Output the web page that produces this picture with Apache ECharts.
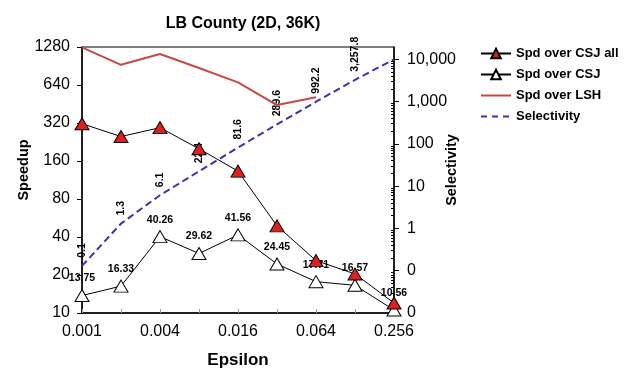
<!doctype html>
<html>
<head>
<meta charset="UTF-8">
<title>LB County</title>
<style>
  body { margin: 0; padding: 0; background: #fff; }
  #main { width: 644px; height: 373px; }
</style>
</head>
<body>
<div id="main"></div>
<script src="https://cdn.jsdelivr.net/npm/echarts@6/dist/echarts.min.js"></script>
<script>
// epsilon values (x), each step doubles
var epsilons = ['0.001', '0.002', '0.004', '0.008', '0.016', '0.032', '0.064', '0.128', '0.256'];

// speedup series (left axis, log2)
var spdCsjAll = [316, 250, 294, 200, 133, 49, 26, 20.4, 12.0];
var spdCsj = [13.75, 16.33, 40.26, 29.62, 41.56, 24.45, 17.71, 16.57, 10.56];
var spdLsh = [1270, 925, 1127, 873, 672, 444, 511, null, null];

// selectivity (right axis, log10)
var selectivity = [0.13, 1.3, 6.1, 22.4, 81.6, 289.6, 992.2, 3257.8, 10000];

// tick values
var speedupTicks = [10, 20, 40, 80, 160, 320, 640, 1280];
var selTicks = [0.01, 0.1, 1, 10, 100, 1000, 10000];
var selMinorTicks = [];
for (var d = -2; d <= 3; d++) {
    for (var k = 2; k <= 9; k++) {
        selMinorTicks.push(k * Math.pow(10, d));
    }
}

var font = 'Liberation Sans, Arial, Helvetica, sans-serif';
var oneDec = new Intl.NumberFormat('en-US', { minimumFractionDigits: 1, maximumFractionDigits: 1 });

// legend icons drawn in a 30x12 box (tiny corner specks keep the box size)
var specks = 'M0,0L0.01,0L0,0.01Z M30,12L29.99,12L30,11.99Z ';
var solidIcon = 'path://' + specks + 'M0,5L30,5L30,7L0,7Z';
var dashIcon = 'path://' + specks + 'M0,5L6,5L6,7L0,7Z M11,5L17,5L17,7L11,7Z M22,5L28,5L28,7L22,7Z';

var chart = echarts.init(document.getElementById('main'));

chart.setOption({
    animation: false,
    textStyle: { fontFamily: font },
    title: {
        text: 'LB County (2D, 36K)',
        left: 238,
        textAlign: 'center',
        top: 11,
        textStyle: { fontSize: 16, fontWeight: 'bold', color: '#000', fontFamily: font }
    },
    grid: {
        left: 82, right: 250, top: 47, bottom: 60,
        outerBoundsMode: 'none',
        show: true, borderColor: '#000', borderWidth: 1
    },
    legend: {
        orient: 'vertical',
        left: 480,
        top: 47,
        padding: 0,
        itemWidth: 30,
        itemHeight: 12,
        itemGap: 8,
        data: [
            { name: 'Spd over CSJ all' },
            { name: 'Spd over CSJ' },
            { name: 'Spd over LSH', icon: solidIcon },
            { name: 'Selectivity', icon: dashIcon }
        ],
        textStyle: { fontSize: 13, fontWeight: 'bold', color: '#000', fontFamily: font }
    },
    xAxis: {
        type: 'category',
        data: epsilons,
        boundaryGap: false,
        name: 'Epsilon',
        nameLocation: 'middle',
        nameGap: 39,
        nameMoveOverlap: false,
        nameTextStyle: { fontSize: 17, fontWeight: 'bold', color: '#000' },
        axisLine: { lineStyle: { color: '#000', width: 1.5 } },
        axisTick: { inside: true, length: 4, interval: 0, lineStyle: { color: '#999' } },
        axisLabel: { interval: 1, fontSize: 16, color: '#000', margin: 11 },
        splitLine: { show: false }
    },
    yAxis: [{
        type: 'log',
        logBase: 2,
        min: 10,
        max: 1280,
        position: 'left',
        name: 'Speedup',
        nameLocation: 'middle',
        nameGap: 51,
        nameMoveOverlap: false,
        nameTextStyle: { fontSize: 14.5, fontWeight: 'bold', color: '#000', padding: [0, 0, 0, 20] },
        axisLine: { show: true, lineStyle: { color: '#000', width: 1.5 } },
        axisTick: { show: true, length: 5, customValues: speedupTicks, lineStyle: { color: '#000' } },
        axisLabel: {
            fontSize: 16, color: '#000', margin: 12, customValues: speedupTicks,
            formatter: function (v) { return String(Math.round(v)); }
        },
        splitLine: { show: false }
    }, {
        type: 'log',
        logBase: 10,
        min: 0.01,
        max: 19500,
        position: 'right',
        name: 'Selectivity',
        nameLocation: 'middle',
        nameGap: 50,
        nameMoveOverlap: false,
        nameTextStyle: { fontSize: 14.5, fontWeight: 'bold', color: '#000', padding: [0, 0, 0, 20] },
        axisLine: { show: true, lineStyle: { color: '#000', width: 1.5 } },
        axisTick: { show: true, length: 5, customValues: selTicks, lineStyle: { color: '#000' } },
        axisLabel: {
            fontSize: 16, color: '#000', margin: 13, customValues: selTicks,
            formatter: function (v) { return Math.round(v).toLocaleString('en-US'); }
        },
        splitLine: { show: false }
    }, {
        // minor ticks of the selectivity axis
        type: 'log',
        logBase: 10,
        min: 0.01,
        max: 19500,
        position: 'right',
        axisLine: { show: false },
        axisTick: { show: true, inside: true, length: 3, customValues: selMinorTicks, lineStyle: { color: '#000' } },
        axisLabel: { show: false },
        splitLine: { show: false }
    }],
    series: [{
        name: 'Spd over CSJ all',
        type: 'line',
        yAxisIndex: 0,
        data: spdCsjAll,
        z: 5,
        symbol: 'triangle',
        symbolSize: [14, 12],
        lineStyle: { color: '#000', width: 1 },
        itemStyle: { color: '#e02020', borderColor: '#000', borderWidth: 1 }
    }, {
        name: 'Spd over CSJ',
        type: 'line',
        yAxisIndex: 0,
        data: spdCsj,
        z: 4,
        symbol: 'triangle',
        symbolSize: [14, 12],
        lineStyle: { color: '#000', width: 1 },
        itemStyle: { color: '#fff', borderColor: '#000', borderWidth: 1 },
        label: {
            show: true,
            position: 'top',
            distance: 5,
            fontSize: 10.5,
            fontWeight: 'bold',
            color: '#000',
            formatter: function (p) { return p.value.toFixed(2); }
        }
    }, {
        name: 'Spd over LSH',
        type: 'line',
        yAxisIndex: 0,
        data: spdLsh,
        z: 3,
        symbol: 'none',
        lineStyle: { color: '#c84848', width: 2 },
        itemStyle: { color: '#c84848' }
    }, {
        name: 'Selectivity',
        type: 'line',
        yAxisIndex: 1,
        data: selectivity,
        z: 2,
        symbol: 'circle',
        symbolSize: 0.1,
        showSymbol: true,
        lineStyle: { color: '#3b32b0', width: 2, type: [7, 4] },
        itemStyle: { color: '#3b32b0' },
        label: {
            show: true,
            position: 'top',
            distance: 8,
            rotate: 90,
            align: 'left',
            verticalAlign: 'middle',
            fontSize: 10.5,
            fontWeight: 'bold',
            color: '#000',
            formatter: function (p) {
                return p.dataIndex === selectivity.length - 1 ? '' : oneDec.format(p.value);
            }
        }
    }]
});
</script>
</body>
</html>
